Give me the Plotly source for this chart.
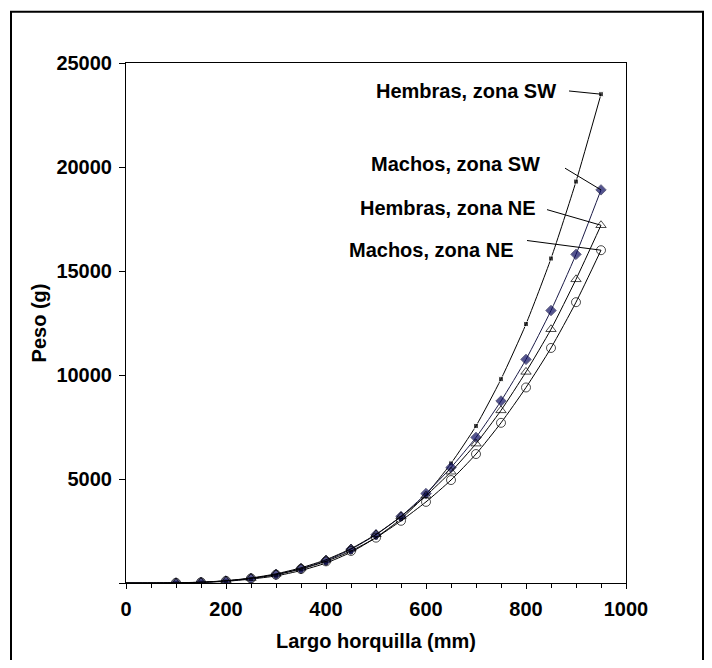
import plotly.graph_objects as go

# ---- data ----
largo = [0, 50, 100, 150, 200, 250, 300, 350, 400, 450, 500, 550, 600, 650, 700, 750, 800, 850, 900, 950]
hembras_sw = [0, 1, 5, 25, 80, 190, 340, 600, 960, 1480, 2190, 3080, 4250, 5750, 7550, 9800, 12450, 15600, 19300, 23500]
machos_sw = [0, 1, 8, 35, 100, 220, 410, 690, 1080, 1620, 2320, 3200, 4300, 5550, 7000, 8750, 10750, 13100, 15800, 18900]
hembras_ne = [0, 1, 10, 40, 110, 240, 440, 730, 1120, 1650, 2340, 3200, 4200, 5350, 6700, 8300, 10150, 12200, 14600, 17200]
machos_ne = [0, 1, 8, 35, 100, 220, 400, 670, 1040, 1540, 2180, 2990, 3900, 4950, 6200, 7700, 9400, 11300, 13500, 16000]
etiquetas = ["Hembras, zona SW", "Machos, zona SW", "Hembras, zona NE", "Machos, zona NE"]
x_ticks = [0, 200, 400, 600, 800, 1000]
y_ticks = [0, 5000, 10000, 15000, 20000, 25000]

FONT = "Liberation Sans, Arial, sans-serif"
NAVY = "#0c0c60"

OFF = 8  # default body margin of the page
W, H = 712 - 2 * OFF, 668 - 2 * OFF
L, R, T, B = 126 - OFF, 626 - OFF, 63 - OFF, 602 - OFF  # plot area in figure pixels

def px2x(px):
    px -= OFF
    return (px - L) / (R - L) * 1000

def py2y(py):
    py -= OFF
    return (B - py) / (B - T) * 25000

msize = lambda s: [0 if v < 100 else s for v in largo]

fig = go.Figure()
series = [
    (hembras_sw, dict(symbol="square", size=msize(5), color="black"), "black"),
    (machos_sw, dict(symbol="diamond", size=msize(8), color=NAVY), "#1c1c48"),
    (hembras_ne, dict(symbol="triangle-up-open", size=msize(9), color="black", line=dict(width=1)), "black"),
    (machos_ne, dict(symbol="circle-open", size=msize(9), color="black", line=dict(width=1)), "black"),
]
for (vals, mk, lc), name in zip(series, etiquetas):
    fig.add_trace(go.Scatter(x=largo, y=vals, mode="lines+markers", name=name,
                             line=dict(color=lc, width=1, shape="spline", smoothing=0.6),
                             marker=mk, showlegend=False))

# label positions (window pixels): text right end, text y center, leader start
label_pos = [
    (558, 92, 569, 92),
    (542, 168, 565, 172),
    (538, 213, 547, 215),
    (515, 257, 527, 247),
]
ends = [hembras_sw[-1], machos_sw[-1], hembras_ne[-1], machos_ne[-1]]
for name, (tx, ty, sx, sy), yv in zip(etiquetas, label_pos, ends):
    fig.add_annotation(x=px2x(tx), y=py2y(ty), xref="x", yref="y", text="<b>%s</b>" % name,
                       showarrow=False, xanchor="right", yanchor="middle",
                       font=dict(family=FONT, size=20, color="black"))
    fig.add_shape(type="line", xref="x", yref="y", x0=px2x(sx), y0=py2y(sy),
                  x1=largo[-1], y1=yv, line=dict(color="black", width=1))

# outer frame of the figure (window pixels 11,10 -> 704, beyond bottom)
fx0, fx1 = (11 - OFF - L) / (R - L), (703 - OFF - L) / (R - L)
fy_top = (B - (10 - OFF)) / (B - T)
fy_bot = (B - 720) / (B - T)
fig.add_shape(type="rect", xref="paper", yref="paper", x0=fx0, x1=fx1, y0=fy_bot, y1=fy_top,
              line=dict(color="black", width=2), fillcolor="rgba(0,0,0,0)", layer="below")

fig.update_layout(
    width=W, height=H,
    margin=dict(l=L, r=W - R, t=T, b=H - B),
    plot_bgcolor="white", paper_bgcolor="white",
    font=dict(family=FONT, size=20, color="black"),
)
fig.update_xaxes(range=[0, 1000], tickvals=x_ticks, ticktext=["<b>%d</b>" % v for v in x_ticks],
                 ticks="outside", ticklen=5, tickcolor="black", ticklabelstandoff=3,
                 minor=dict(dtick=50, tick0=0, ticks="outside", ticklen=4, tickcolor="black"),
                 showline=True, linecolor="black", linewidth=1, mirror=True,
                 showgrid=False, zeroline=False,
                 title=dict(text="<b>Largo horquilla (mm)</b>", font=dict(size=20), standoff=14))
fig.update_yaxes(range=[0, 25000], tickvals=y_ticks,
                 ticktext=["" if v == 0 else "<b>%d</b>" % v for v in y_ticks],
                 ticks="outside", ticklen=6, tickcolor="black", ticklabelstandoff=3,
                 showline=True, linecolor="black", linewidth=1, mirror=True,
                 showgrid=False, zeroline=False,
                 title=dict(text="<b>Peso (g)</b>", font=dict(size=20), standoff=4))

fig.write_html("out.html")
